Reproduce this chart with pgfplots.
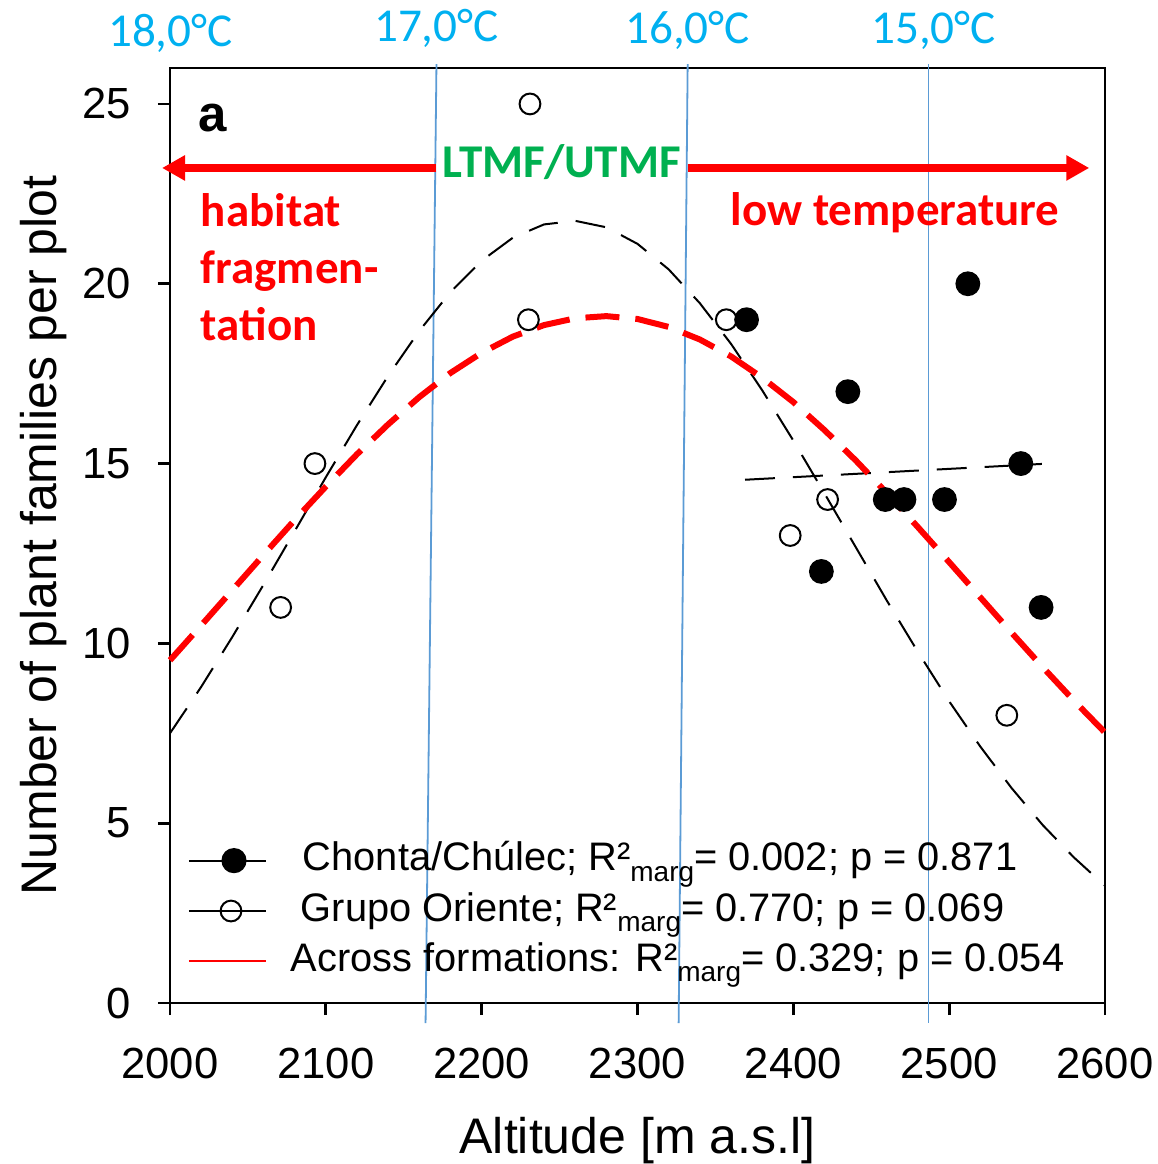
\documentclass[border=0pt]{standalone}
\usepackage{pgfplots}
\pgfplotsset{compat=1.18}
\usetikzlibrary{arrows.meta}
\usepackage{fontspec}
\setmainfont{Liberation Sans}
\newfontfamily\calibri{Carlito}

\definecolor{tempblue}{HTML}{00B0F0}
\definecolor{lineblue}{HTML}{5B9BD5}
\definecolor{zonegreen}{HTML}{00B050}

% lowered subscript used in the legend statistics
\newcommand{\marg}{\raisebox{-2.6pt}{\fontsize{7}{8}\selectfont marg}}

% legend symbols: short line with a marker on it
\pgfplotsset{
  markline A/.style={legend image code/.code={\draw[##1, mark repeat=2, mark phase=2] plot coordinates {(0pt,0pt) (11.25pt,0pt) (19.25pt,0pt)};}},
  markline B/.style={legend image code/.code={\draw[##1, mark repeat=2, mark phase=2] plot coordinates {(0pt,0pt) (10.5pt,0pt) (19.25pt,0pt)};}},
  plainline/.style={legend image code/.code={\draw[##1] (0pt,0pt) -- (19.25pt,0pt);}},
}

% Plot-level observations (altitude, number of families)
\pgfplotstableread{
alt   fam
2370  19
2512  20
2435  17
2546  15
2459  14
2471  14
2497  14
2418  12
2559  11
}\chonta
\pgfplotstableread{
alt   fam
2231  25
2230  19
2093  15
2071  11
2357  19
2422  14
2398  13
2537  8
}\oriente

\begin{document}
\begin{tikzpicture}
\begin{axis}[
  scale only axis, width=233.75pt, height=233.75pt,
  xmin=2000, xmax=2600, ymin=0, ymax=26,
  xtick={2000,2100,...,2600}, ytick={0,5,...,25},
  tick pos=left, tick align=outside, major tick length=3pt,
  axis line style={line width=0.7pt},
  every tick/.style={black, line width=0.7pt},
  clip=false,
  /pgf/number format/assume math mode=true,
  /pgf/number format/set thousands separator={},
  tick label style={font=\fontsize{10.9}{13}\selectfont},
  xticklabel style={inner sep=0pt, yshift=-8pt},
  yticklabel style={inner sep=0pt, xshift=-6.5pt},
  xlabel={Altitude [m a.s.l]},
  ylabel={Number of plant families per plot},
  label style={font=\fontsize{12.5}{15}\selectfont},
  xlabel style={at={(axis description cs:0.5,-0.16043)}, anchor=base},
  ylabel style={at={(axis description cs:-0.12086,0.5)}, anchor=base},
  legend style={draw=none, fill=none, at={(axis cs:2011.55,4.66)}, anchor=north west,
    inner sep=0pt, outer sep=0pt, row sep=0pt, column sep=6pt,
    font=\fontsize{9.95}{12}\selectfont,
    nodes={inner sep=0pt, text height=8.8pt, text depth=3.8pt}},
  legend cell align=left,
]

% temperature isolines
\addplot[lineblue, line width=0.45pt, forget plot] coordinates {(2171.0,26.11) (2164.0,-0.56)};
\addplot[lineblue, line width=0.45pt, forget plot] coordinates {(2332.2,26.11) (2326.4,-0.56)};
\addplot[lineblue, line width=0.45pt, forget plot] coordinates {(2486.8,26.11) (2486.8,-0.56)};

% fitted curves
\addplot[black, line width=0.5pt, dash pattern=on 7.5pt off 4.5pt, forget plot] coordinates {
(2000,7.50) (2020,8.79) (2040,10.18) (2060,11.63) (2080,13.12) (2100,14.62)
(2120,16.07) (2140,17.44) (2160,18.69) (2180,19.77) (2200,20.64) (2220,21.28)
(2240,21.65) (2260,21.75) (2280,21.57) (2300,21.11) (2320,20.40) (2340,19.46)
(2360,18.33) (2380,17.04) (2400,15.64) (2420,14.17) (2440,12.68) (2460,11.19)
(2480,9.76) (2500,8.39) (2520,7.13) (2540,5.98) (2560,4.95) (2580,4.05) (2600,3.26)};
\addplot[black, line width=0.5pt, dash pattern=on 7.5pt off 4.5pt, forget plot] coordinates {
(2369,14.55) (2559.5,14.99)};
\addplot[red, line width=1.5pt, dash pattern=on 8.5pt off 4pt, forget plot] coordinates {
(2000,9.53) (2020,10.50) (2040,11.48) (2060,12.46) (2080,13.43) (2100,14.36)
(2120,15.26) (2140,16.09) (2160,16.85) (2180,17.52) (2200,18.08) (2220,18.53)
(2240,18.85) (2260,19.04) (2280,19.10) (2300,19.02) (2320,18.80) (2340,18.45)
(2360,17.98) (2380,17.39) (2400,16.71) (2420,15.93) (2440,15.09) (2460,14.18)
(2480,13.23) (2500,12.26) (2520,11.28) (2540,10.30) (2560,9.34) (2580,8.41) (2600,7.52)};

% observations
\addplot[only marks, mark=o, mark size=2.6pt, line width=0.5pt, black, forget plot] table[x=alt,y=fam] {\oriente};
\addplot[only marks, mark=*, mark size=2.9pt, black, forget plot] table[x=alt,y=fam] {\chonta};

% legend entries
\addlegendimage{black, line width=0.5pt, mark=*, mark size=2.9pt, markline A}
\addlegendentry{\hspace{3pt}Chonta/Chúlec; R²\marg= 0.002; p = 0.871}
\addlegendimage{black, line width=0.5pt, mark=o, mark size=2.6pt, markline B}
\addlegendentry{\hspace{2.5pt}Grupo Oriente; R²\marg= 0.770; p = 0.069}
\addlegendimage{red, line width=0.5pt, plainline}
\addlegendentry{Across formations: R²\marg= 0.329; p = 0.054}

% zone arrows
\addplot[red, line width=2pt, -{Triangle[length=5.75pt, width=6pt]}, forget plot] coordinates {(2171,23.22) (1994.9,23.22)};
\addplot[red, line width=2pt, -{Triangle[length=5.75pt, width=6pt]}, forget plot] coordinates {(2332.2,23.22) (2589.9,23.22)};

% annotations
\node[anchor=base west, inner sep=0pt, font=\bfseries\fontsize{12.75}{15}\selectfont] at (axis cs:2017.8,24.23) {a};
\node[anchor=base, inner sep=0pt, text=zonegreen, font=\calibri\bfseries\fontsize{11.75}{14}\selectfont] at (axis cs:2251.5,22.95) {LTMF/UTMF};
\node[anchor=base west, inner sep=0pt, text=red, font=\calibri\bfseries\fontsize{11.75}{14}\selectfont] at (axis cs:2019.3,21.58) {habitat};
\node[anchor=base west, inner sep=0pt, text=red, font=\calibri\bfseries\fontsize{11.75}{14}\selectfont] at (axis cs:2019.3,20.0) {fragmen-};
\node[anchor=base west, inner sep=0pt, text=red, font=\calibri\bfseries\fontsize{11.75}{14}\selectfont] at (axis cs:2019.3,18.42) {tation};
\node[anchor=base west, inner sep=0pt, text=red, font=\calibri\bfseries\fontsize{11.75}{14}\selectfont] at (axis cs:2359.4,21.61) {low temperature};

% temperature labels
\node[anchor=base, inner sep=0pt, text=tempblue, font=\calibri\fontsize{11.8}{14}\selectfont] at (axis cs:2000.3,26.61) {18,0°C};
\node[anchor=base, inner sep=0pt, text=tempblue, font=\calibri\fontsize{11.8}{14}\selectfont] at (axis cs:2171.0,26.75) {17,0°C};
\node[anchor=base, inner sep=0pt, text=tempblue, font=\calibri\fontsize{11.8}{14}\selectfont] at (axis cs:2332.2,26.69) {16,0°C};
\node[anchor=base, inner sep=0pt, text=tempblue, font=\calibri\fontsize{11.8}{14}\selectfont] at (axis cs:2490.0,26.69) {15,0°C};

\coordinate (pbl) at (rel axis cs:0,0);
\coordinate (ptr) at (rel axis cs:1,1);
\end{axis}
\pgfresetboundingbox
\path ([xshift=-42.5pt,yshift=-40.25pt]pbl) rectangle ([xshift=13.25pt,yshift=17pt]ptr);
\end{tikzpicture}
\end{document}
